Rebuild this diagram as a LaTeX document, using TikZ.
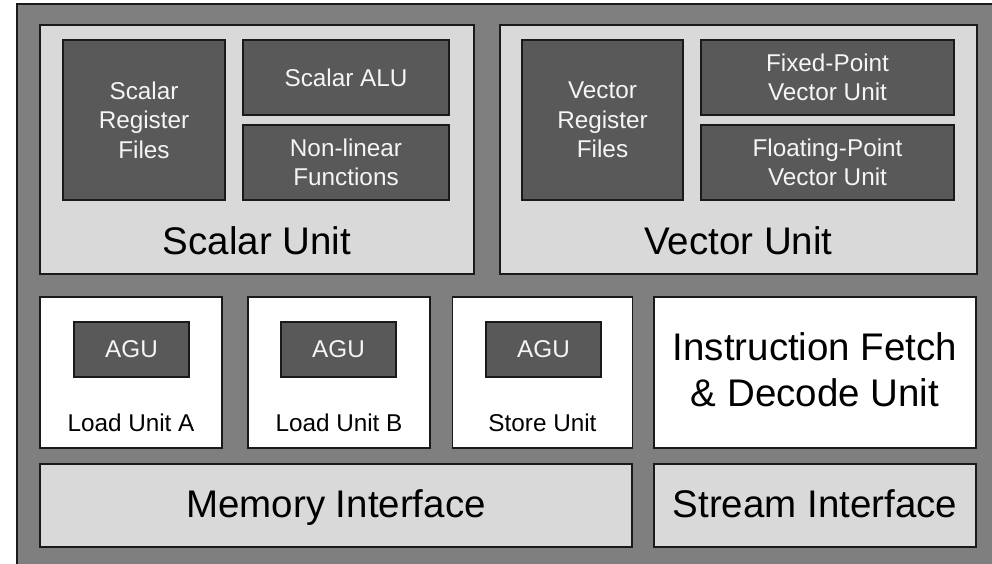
\documentclass[tikz,border=0pt]{standalone}
\usepackage{fontspec}
\setmainfont{Liberation Sans}
\definecolor{chipgray}{HTML}{7F7F7F}
\definecolor{unitgray}{HTML}{D9D9D9}
\definecolor{darkgray}{HTML}{595959}
\definecolor{edgecol}{HTML}{1A1A1A}
\definecolor{lighttext}{HTML}{F5F5F5}
\tikzset{
  blk/.style={draw=edgecol, line width=1.1pt, inner sep=0pt, outer sep=0pt, rectangle},
  unitbox/.style={blk, fill=unitgray},
  darkbox/.style={blk, fill=darkgray, text=lighttext, align=center, font=\fontsize{24.3}{29.5}\selectfont},
  whitebox/.style={blk, fill=white},
  biglabel/.style={inner sep=0pt, align=center, font=\fontsize{38.5}{46}\selectfont},
  smalllabel/.style={inner sep=0pt, align=center, font=\fontsize{24.3}{29.5}\selectfont},
}
\begin{document}
\begin{tikzpicture}[x=1pt,y=1pt]
\useasboundingbox (0,0) rectangle (992,-564);
\node[blk, fill=chipgray, minimum width=978pt, minimum height=563pt] (chip) at (506,-285.5) {};
% Scalar unit
\node[unitbox, minimum width=434pt, minimum height=249pt] (scalar) at (257,-149.5) {};
\node[biglabel, anchor=base] (scalarlbl) at (257,-254) {Scalar Unit};
\node[darkbox, minimum width=162pt, minimum height=160pt] (srf) at (144,-120) {Scalar\\Register\\Files};
\node[darkbox, minimum width=206pt, minimum height=75pt] (salu) at (346,-77.5) {Scalar ALU};
\node[darkbox, minimum width=206pt, minimum height=75pt] (nlf) at (346,-162.5) {Non-linear\\Functions};
% Vector unit
\node[unitbox, minimum width=477pt, minimum height=249pt] (vector) at (738.5,-149.5) {};
\node[biglabel, anchor=base] (vectorlbl) at (738.5,-254) {Vector Unit};
\node[darkbox, minimum width=161pt, minimum height=160pt] (vrf) at (602.5,-120) {Vector\\Register\\Files};
\node[darkbox, minimum width=253pt, minimum height=75pt] (fxp) at (827.5,-77.5) {Fixed-Point\\Vector Unit};
\node[darkbox, minimum width=253pt, minimum height=75pt] (flp) at (827.5,-162.5) {Floating-Point\\Vector Unit};
% Load/store units
\node[whitebox, minimum width=182pt, minimum height=151pt] (lua) at (131,-372.5) {};
\node[darkbox, minimum width=115pt, minimum height=55pt] (agua) at (131.5,-349.5) {AGU};
\node[smalllabel, anchor=base] (lualbl) at (131,-431) {Load Unit A};
\node[whitebox, minimum width=182pt, minimum height=151pt] (lub) at (339,-372.5) {};
\node[darkbox, minimum width=115pt, minimum height=55pt] (agub) at (338.5,-349.5) {AGU};
\node[smalllabel, anchor=base] (lublbl) at (339,-431) {Load Unit B};
\node[whitebox, minimum width=180pt, minimum height=151pt] (su) at (542.5,-372.5) {};
\node[darkbox, minimum width=115pt, minimum height=55pt] (agus) at (543.5,-349.5) {AGU};
\node[smalllabel, anchor=base] (sulbl) at (542.5,-431) {Store Unit};
\node[whitebox, minimum width=322pt, minimum height=151pt] (ifd) at (815,-372.5) {};
\node[biglabel, anchor=base] (ifdlbl) at (815,-360.7) {Instruction Fetch};
\node[biglabel, anchor=base] (ifdlbl2) at (815,-406.7) {\& Decode Unit};
% Interfaces
\node[unitbox, minimum width=592pt, minimum height=83pt] (mem) at (336,-505.5) {};
\node[biglabel, anchor=base] (memlbl) at (336,-517) {Memory Interface};
\node[unitbox, minimum width=322pt, minimum height=83pt] (stream) at (815,-505.5) {};
\node[biglabel, anchor=base] (streamlbl) at (815,-517) {Stream Interface};
\end{tikzpicture}
\end{document}
